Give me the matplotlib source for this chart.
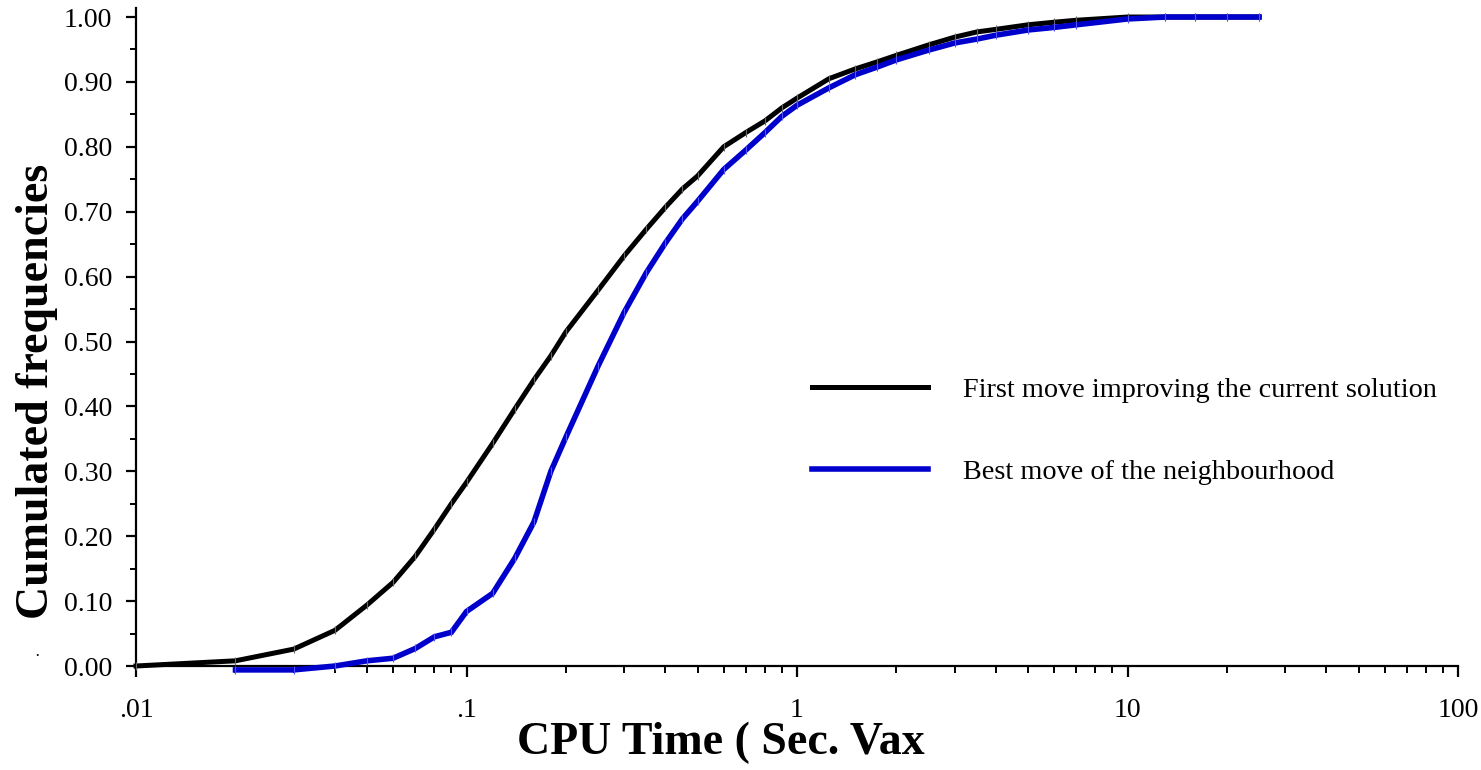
import matplotlib
matplotlib.use("Agg")
import matplotlib.pyplot as plt
from matplotlib.ticker import FixedLocator, FixedFormatter, NullFormatter, MultipleLocator

# ---- data ----
x_first = [0.01, 0.02, 0.03, 0.04, 0.05, 0.06, 0.07, 0.08, 0.09, 0.10, 0.12, 0.14,
           0.16, 0.18, 0.20, 0.25, 0.30, 0.35, 0.40, 0.45, 0.50, 0.60, 0.70, 0.80,
           0.90, 1.0, 1.25, 1.5, 1.75, 2.0, 2.5, 3.0, 3.5, 4.0, 5.0, 6.0, 7.0,
           10, 13, 16, 20, 25]
y_first = [0.000, 0.008, 0.026, 0.055, 0.094, 0.129, 0.169, 0.211, 0.250, 0.283,
           0.343, 0.396, 0.441, 0.478, 0.515, 0.579, 0.632, 0.673, 0.707, 0.735,
           0.755, 0.800, 0.822, 0.840, 0.860, 0.875, 0.905, 0.920, 0.931, 0.941,
           0.957, 0.969, 0.977, 0.981, 0.988, 0.992, 0.995, 1.0, 1.0, 1.0, 1.0, 1.0]

x_best = [0.02, 0.03, 0.04, 0.05, 0.06, 0.07, 0.08, 0.09, 0.10, 0.12, 0.14,
          0.16, 0.18, 0.20, 0.25, 0.30, 0.35, 0.40, 0.45, 0.50, 0.60, 0.70, 0.80,
          0.90, 1.0, 1.25, 1.5, 1.75, 2.0, 2.5, 3.0, 3.5, 4.0, 5.0, 6.0, 7.0,
          10, 13, 16, 20, 25]
y_best = [-0.006, -0.006, 0.000, 0.008, 0.012, 0.027, 0.045, 0.052, 0.084, 0.112,
          0.166, 0.222, 0.300, 0.353, 0.462, 0.545, 0.606, 0.652, 0.689, 0.716,
          0.765, 0.795, 0.822, 0.847, 0.864, 0.891, 0.911, 0.923, 0.934, 0.949,
          0.960, 0.966, 0.972, 0.980, 0.984, 0.988, 0.997, 1.0, 1.0, 1.0, 1.0]

label_first = "First move improving the current solution"
label_best = "Best move of the neighbourhood"

x_ticks = [0.01, 0.1, 1, 10, 100]
x_ticklabels = [".01", ".1", "1", "10", "100"]
y_ticks = [0.0, 0.1, 0.2, 0.3, 0.4, 0.5, 0.6, 0.7, 0.8, 0.9, 1.0]
y_ticklabels = ["%.2f" % v for v in y_ticks]

# ---- figure ----
plt.rcParams['font.family'] = ['Liberation Serif', 'DejaVu Serif']
W, H = 1481, 770
fig = plt.figure(figsize=(W / 100, H / 100), dpi=100)
ax = fig.add_axes([136 / W, 1 - 666 / H, (1458 - 136) / W, (666 - 8) / H])

ax.plot(x_first, y_first, color='black', lw=3.6, solid_joinstyle='miter',
        marker='|', ms=6, mew=0.8, mec='#666666', label=label_first, clip_on=False, zorder=3)
ax.plot(x_best, y_best, color='#0000cc', lw=4.0, solid_joinstyle='miter',
        marker='|', ms=6, mew=0.8, mec='#5555ff', label=label_best, clip_on=False, zorder=4)

ax.set_xscale('log')
ax.set_xlim(0.01, 100)
ax.set_ylim(0, 1.0139)

ax.xaxis.set_major_locator(FixedLocator(x_ticks))
ax.xaxis.set_major_formatter(FixedFormatter(x_ticklabels))
ax.xaxis.set_minor_formatter(NullFormatter())
ax.set_yticks(y_ticks)
ax.set_yticklabels(y_ticklabels)
ax.yaxis.set_minor_locator(MultipleLocator(0.05))

for s in ['top', 'right']:
    ax.spines[s].set_visible(False)
for s in ['left', 'bottom']:
    ax.spines[s].set_linewidth(1.6)

ax.tick_params(axis='x', which='major', direction='out', length=8, width=1.6,
               labelsize=20, pad=15)
ax.tick_params(axis='x', which='minor', direction='out', length=5, width=1.4)
ax.tick_params(axis='y', which='major', direction='out', length=7, width=1.6,
               labelsize=20, pad=10)
ax.tick_params(axis='y', which='minor', direction='out', length=4, width=1.4)

fig.text(517 / W, 1 - 743 / H, "CPU Time ( Sec. Vax", fontsize=33, fontweight='bold',
         ha='left', va='center')
fig.text(37 / W, 1 - 391 / H, "Cumulated frequencies", fontsize=33, fontweight='bold',
         rotation=90, ha='center', va='center')
fig.text(37 / W, 1 - 657 / H, "·", fontsize=12, ha='center', va='center')

leg = ax.legend(loc='upper left', bbox_to_anchor=(812 / W, 1 - 377 / H),
                bbox_transform=fig.transFigure, frameon=False, fontsize=20.3,
                handlelength=4.1, handletextpad=1.25, labelspacing=2.0,
                borderpad=0, borderaxespad=0, markerscale=0)
for h in leg.get_lines():
    h.set_marker('')

fig.savefig("out.png", dpi=100)
